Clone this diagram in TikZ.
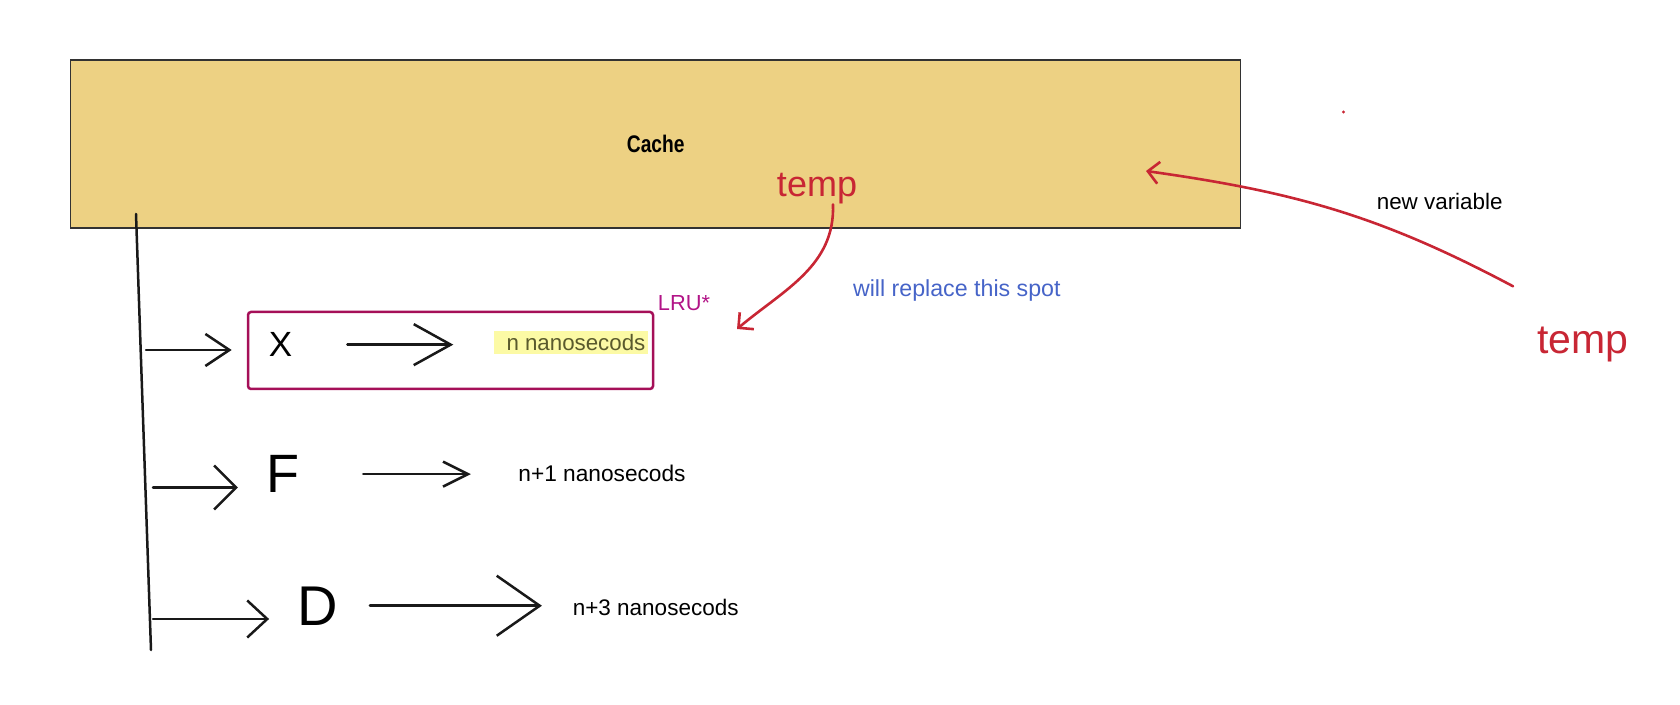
\documentclass[tikz,border=0pt]{standalone}
\usepackage{fontspec}
\setmainfont{Liberation Sans}
\newfontfamily\cachefont{Liberation Sans}[FakeStretch=0.8]
\usetikzlibrary{arrows.meta}

\definecolor{cachefill}{RGB}{237,209,131}
\definecolor{cacheedge}{RGB}{50,50,50}
\definecolor{tempred}{RGB}{200,38,52}
\definecolor{lrupink}{RGB}{165,15,88}
\definecolor{lrutext}{RGB}{178,20,135}
\definecolor{spotblue}{RGB}{70,100,200}
\definecolor{hilite}{RGB}{252,250,165}
\definecolor{olive}{RGB}{90,90,45}

\tikzset{
  fs/.style={font=\fontsize{#1}{#1}\selectfont},
  hand/.style={draw=black!90, line width=2.5pt, line cap=round, line join=round},
  redline/.style={draw=tempred, line width=2.6pt, line cap=round, line join=round},
  barb/.style 2 args={-{Straight Barb[length=#1, width=#2]}},
  cachebox/.style={draw=cacheedge, fill=cachefill, line width=1.5pt,
    minimum width=1170pt, minimum height=168pt, inner sep=0pt},
  lrubox/.style={draw=lrupink, line width=2.5pt, rounded corners=3pt,
    minimum width=405pt, minimum height=77pt, inner sep=0pt},
  letter/.style={inner sep=0pt, anchor=base},
  timetxt/.style={inner sep=0pt, anchor=base, fs=22.5},
}

\begin{document}
\begin{tikzpicture}[x=1pt, y=1pt]
\useasboundingbox (0,0) rectangle (1680,704);

% the cache
\node[cachebox] (cache) at (655.7,559.9) {\cachefont\bfseries\fontsize{24}{24}\selectfont Cache};
\node[letter, fs=36, text=tempred] (temp1) at (817,507.3) {temp};
\node[letter, fs=41, text=tempred] (temp2) at (1582.8,350) {temp};
\node[letter, fs=22.4] (newvar) at (1439.7,494.7) {new variable};
\node[letter, fs=23.2, text=spotblue] (replace) at (956.8,407) {will replace this spot};
\node[letter, fs=21.8, text=lrutext] (lru) at (684,393) {LRU*};
\fill[tempred] (1343.5,592) circle (1.6pt);

% entries
\node[lrubox] (xbox) at (450.5,353.5) {};
\node[letter, fs=35] (X) at (280.5,347.3) {X};
\node[letter, fs=54] (F) at (283,211.3) {F};
\node[letter, fs=56] (D) at (317.5,79) {D};

\node[timetxt, text=olive, fill=hilite, anchor=base west, inner xsep=3pt,
  minimum height=23.3pt, fs=22.3] (tx) at (493.3,353.3) {\hspace*{10pt}n nanosecods};
\node[timetxt, fs=22.7] (tf) at (602,222.4) {n+1 nanosecods};
\node[timetxt] (td) at (655.7,88.5) {n+3 nanosecods};

% trunk and branches
\coordinate (trunktop) at (136,490);
\coordinate (trunkbot) at (151,54);
\coordinate (bx) at (146,354);
\coordinate (bf) at (153,216.5);
\coordinate (bd) at (153,85);
\draw[hand] (trunktop) -- (trunkbot);
\draw[hand, barb={24pt}{32pt}, shorten >=37pt] (bx) -- (bx -| X.west);
\draw[hand, barb={22pt}{44pt}, shorten >=28.5pt] (bf) -- (bf -| F.west);
\draw[hand, barb={20pt}{37pt}, shorten >=28pt] (bd) -- (bd -| D.west);

\draw[hand, barb={37pt}{41pt}, shorten <=55pt, shorten >=40pt] (X.east) -- (X.east -| tx.west);
\draw[hand, barb={25pt}{25pt}, shorten <=63.5pt, shorten >=47.4pt] (F.east) -- (F.east -| tf.west);
\draw[hand, barb={43pt}{60pt}, shorten <=32pt, shorten >=30.7pt] (D.east) -- (D.east -| td.west);

% the swap
\coordinate (spot) at (737,375);
\coordinate (slot) at (1146,533);
\draw[redline, barb={11pt}{22pt}] ([xshift=16pt]temp1.south) to[out=-88, in=40] (spot);
\draw[redline, barb={11pt}{22pt}] ([shift={(-24pt,41pt)}]temp2.north west) to[out=152, in=-8] (slot);
\end{tikzpicture}
\end{document}
